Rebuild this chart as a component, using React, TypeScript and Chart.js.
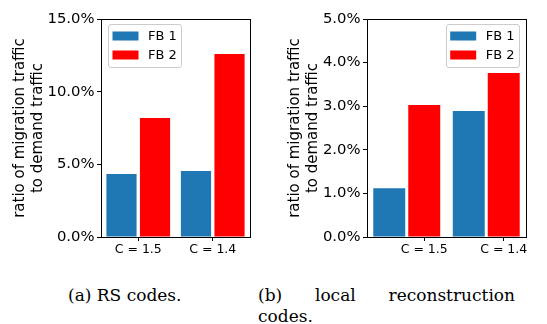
import React, { useEffect, useRef } from "react";
import { Chart, registerables } from "chart.js";

Chart.register(...registerables);

// ---------- data ----------
const categories = ["C = 1.5", "C = 1.4"];
const seriesNames = ["FB 1", "FB 2"];
const rsFb1 = [4.33, 4.54];
const rsFb2 = [8.19, 12.59];
const lrcFb1 = [1.12, 2.89];
const lrcFb2 = [3.03, 3.76];
const rsYMax = 15;
const rsYStep = 5;
const lrcYMax = 5;
const lrcYStep = 1;
const yTitle = ["ratio of migration traffic", "to demand traffic"];
const captionA = "(a) RS codes.";
const captionB1 = "(b) local reconstruction";
const captionB2 = "codes.";
const seriesColors = ["#1f77b4", "#ff0000"];

const panelPlugin = {
  id: "boxLegend",
  afterDraw(chart: any, _args: any, opts: any) {
    const { ctx, chartArea: a } = chart;
    ctx.save();
    // full frame (matplotlib spines)
    ctx.strokeStyle = "#000";
    ctx.lineWidth = 1;
    ctx.strokeRect(
      Math.round(a.left) + 0.5,
      Math.round(a.top) + 0.5,
      Math.round(a.right - a.left),
      Math.round(a.bottom - a.top)
    );
    // legend box inside plot area
    const dsets = chart.data.datasets;
    ctx.font = '13px "DejaVu Sans"';
    const textW = Math.max(...dsets.map((d: any) => ctx.measureText(d.label).width));
    const pad = 4.5, handle = 26, gap = 9.5, rowH = 19, h = 43;
    const w = pad + handle + gap + textW + pad;
    const x = opts.side === "left" ? a.left + 7 : a.right - 7 - w;
    const y = a.top + 5;
    ctx.beginPath();
    (ctx as any).roundRect(Math.round(x) + 0.5, Math.round(y) + 0.5, Math.round(w), h, 2.5);
    ctx.fillStyle = "rgba(255,255,255,0.8)";
    ctx.fill();
    ctx.strokeStyle = "#cccccc";
    ctx.stroke();
    dsets.forEach((d: any, i: number) => {
      const cy = y + 12 + i * rowH;
      ctx.fillStyle = d.backgroundColor;
      ctx.fillRect(x + pad, cy - 4.5, handle, 9);
      ctx.fillStyle = "#000";
      ctx.textBaseline = "middle";
      ctx.textAlign = "left";
      ctx.fillText(d.label, x + pad + handle + gap, cy + 0.5);
    });
    ctx.restore();
  },
};

type PanelProps = {
  fb1: number[];
  fb2: number[];
  yMax: number;
  yStep: number;
  catPct: number;
  barPct: number;
  tickShift: number;
  legendSide: "left" | "right";
  titlePad: number;
  axisWidth: number;
  padRight: number;
  width: number;
  height: number;
  left: number;
};

function BarPanel(p: PanelProps) {
  const ref = useRef<HTMLCanvasElement>(null);
  useEffect(() => {
    const tickFont = { family: "DejaVu Sans", size: 14.8 };
    const chart = new Chart(ref.current!, {
      type: "bar",
      data: {
        labels: categories,
        datasets: [
          {
            label: seriesNames[0],
            data: p.fb1,
            backgroundColor: seriesColors[0],
            borderWidth: 0,
            categoryPercentage: p.catPct,
            barPercentage: p.barPct,
          },
          {
            label: seriesNames[1],
            data: p.fb2,
            backgroundColor: seriesColors[1],
            borderWidth: 0,
            categoryPercentage: p.catPct,
            barPercentage: p.barPct,
          },
        ],
      },
      options: {
        responsive: false,
        maintainAspectRatio: false,
        animation: false,
        devicePixelRatio: 1,
        layout: { padding: { top: 19, left: 0, right: p.padRight, bottom: 0 } },
        plugins: {
          legend: { display: false },
          tooltip: { enabled: false },
          boxLegend: { side: p.legendSide },
        } as any,
        scales: {
          x: {
            type: "category",
            offset: true,
            grid: {
              display: true,
              drawOnChartArea: false,
              drawTicks: true,
              tickLength: 4,
              color: "#000",
              offset: false,
            },
            border: { display: false },
            ticks: {
              font: { family: "DejaVu Sans", size: 12.5 },
              color: "#000",
              padding: 1,
              maxRotation: 0,
              autoSkip: false,
              callback: (_v: any, i: number) => categories[i],
            },
            afterBuildTicks: (s: any) => {
              s.ticks = categories.map((_c, i) => ({ value: i + p.tickShift }));
            },
            afterFit: (s: any) => {
              s.height = 30;
            },
          },
          y: {
            min: 0,
            max: p.yMax,
            grid: {
              display: true,
              drawOnChartArea: false,
              drawTicks: true,
              tickLength: 4,
              color: "#000",
            },
            border: { display: false },
            ticks: {
              stepSize: p.yStep,
              font: tickFont,
              color: "#000",
              padding: 2.5,
              callback: (v: any) => Number(v).toFixed(1) + "%",
            },
            title: {
              display: true,
              text: yTitle,
              color: "#000",
              font: { family: "DejaVu Sans", size: 15, lineHeight: 1.2 },
              padding: { top: p.titlePad, bottom: 0 },
            },
            afterFit: (s: any) => {
              s.width = p.axisWidth;
            },
          },
        } as any,
      },
      plugins: [panelPlugin as any],
    });
    return () => chart.destroy();
  }, []);
  return (
    <canvas
      ref={ref}
      width={p.width}
      height={p.height}
      style={{ position: "absolute", left: p.left, top: 0, width: p.width, height: p.height }}
    />
  );
}

export default function App() {
  const capStyle: React.CSSProperties = {
    position: "absolute",
    fontFamily: '"DejaVu Serif", serif',
    fontSize: 17,
    lineHeight: "21px",
    color: "#000",
    whiteSpace: "nowrap",
  };
  return (
    <div
      style={{
        position: "fixed",
        left: 0,
        top: 0,
        width: 547,
        height: 324,
        background: "#fff",
        overflow: "hidden",
      }}
    >
      <BarPanel
        fb1={rsFb1}
        fb2={rsFb2}
        yMax={rsYMax}
        yStep={rsYStep}
        catPct={0.9}
        barPct={0.9}
        tickShift={0}
        legendSide="left"
        titlePad={11}
        axisWidth={101}
        padRight={20}
        width={270}
        height={267}
        left={0}
      />
      <BarPanel
        fb1={lrcFb1}
        fb2={lrcFb2}
        yMax={lrcYMax}
        yStep={lrcYStep}
        catPct={0.88}
        barPct={0.914}
        tickShift={0.22}
        legendSide="right"
        titlePad={16}
        axisWidth={97}
        padRight={21}
        width={277}
        height={267}
        left={270}
      />
      <div style={{ ...capStyle, left: 68, top: 285 }}>{captionA}</div>
      <div
        style={{
          ...capStyle,
          left: 258,
          top: 285,
          width: 257,
          textAlign: "justify",
          textAlignLast: "justify" as any,
          whiteSpace: "normal",
        }}
      >
        {captionB1}
      </div>
      <div style={{ ...capStyle, left: 258, top: 306 }}>{captionB2}</div>
    </div>
  );
}
